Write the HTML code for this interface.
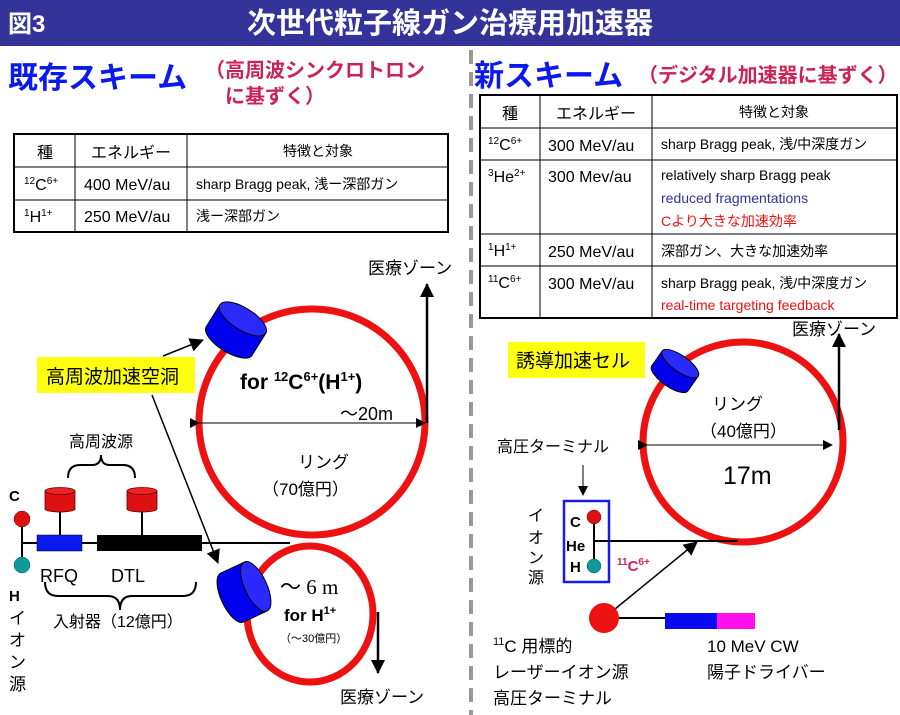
<!DOCTYPE html>
<html><head><meta charset="utf-8">
<style>
html,body{margin:0;padding:0;background:#fff;}
svg{display:block;font-family:"Liberation Sans","Noto Sans CJK JP",sans-serif;}
</style></head>
<body>
<svg width="900" height="715" viewBox="0 0 900 715" xmlns="http://www.w3.org/2000/svg">
<defs>
<marker id="ah" markerWidth="10" markerHeight="10" refX="9" refY="5" orient="auto" markerUnits="userSpaceOnUse"><path d="M0,0 L10,5 L0,10 z" fill="#000"/></marker>
<marker id="ahb" markerWidth="14" markerHeight="14" refX="13" refY="7" orient="auto" markerUnits="userSpaceOnUse"><path d="M0,0 L14,7 L0,14 z" fill="#000"/></marker>
<g id="cyl">
<rect x="-13" y="-27" width="26" height="54" fill="#0000ee"/>
<ellipse cx="-13" cy="0" rx="11" ry="27" fill="#0000ee" stroke="#000" stroke-width="1"/>
<rect x="-13" y="-27" width="26" height="54" fill="#0000ee"/>
<line x1="-13" y1="-27" x2="13" y2="-27" stroke="#000"/>
<line x1="-13" y1="27" x2="13" y2="27" stroke="#000"/>
<ellipse cx="13" cy="0" rx="11" ry="27" fill="#2a2aff" stroke="#000" stroke-width="1"/>
</g>
<g id="rcyl">
<rect x="0" y="4" width="30" height="18" fill="#dd1111" stroke="#600" stroke-width="0.8"/>
<ellipse cx="15" cy="22" rx="15" ry="3" fill="#dd1111" stroke="#600" stroke-width="0.8"/>
<rect x="0.5" y="4" width="29" height="17" fill="#dd1111"/>
<ellipse cx="15" cy="4" rx="15" ry="3.5" fill="#ee2222" stroke="#600" stroke-width="0.8"/>
</g>
</defs>

<rect x="0" y="0" width="900" height="46" fill="#333399"/>
<text x="8" y="32" font-size="24" font-weight="bold" fill="#fff">図3</text>
<text x="450" y="33" font-size="29" font-weight="bold" fill="#fff" text-anchor="middle">次世代粒子線ガン治療用加速器</text>

<line x1="471" y1="50" x2="471" y2="715" stroke="#999" stroke-width="4" stroke-dasharray="14,8"/>

<text x="8" y="88" font-size="30" font-weight="bold" fill="#0a1aee">既存スキーム</text>
<text x="205" y="77" font-size="20" font-weight="bold" fill="#cc2255">（高周波シンクロトロン</text>
<text x="225" y="103" font-size="20" font-weight="bold" fill="#cc2255">に基ずく）</text>

<g stroke="#000" fill="none">
<rect x="14" y="134" width="434" height="98" stroke-width="2"/>
<line x1="14" y1="167" x2="448" y2="167"/>
<line x1="14" y1="200" x2="448" y2="200"/>
<line x1="75" y1="134" x2="75" y2="232"/>
<line x1="187" y1="134" x2="187" y2="232"/>
</g>
<g font-size="16" fill="#000">
<text x="45" y="158" text-anchor="middle">種</text>
<text x="131" y="158" text-anchor="middle">エネルギー</text>
<text x="318" y="156" text-anchor="middle" font-size="14">特徴と対象</text>
<text x="24" y="190"><tspan font-size="10" dy="-6">12</tspan><tspan dy="6">C</tspan><tspan font-size="10" dy="-6">6+</tspan></text>
<text x="84" y="190">400 MeV/au</text>
<text x="196" y="189" font-size="14">sharp Bragg peak, 浅ー深部ガン</text>
<text x="24" y="222"><tspan font-size="10" dy="-6">1</tspan><tspan dy="6">H</tspan><tspan font-size="10" dy="-6">1+</tspan></text>
<text x="84" y="222">250 MeV/au</text>
<text x="196" y="221" font-size="14">浅ー深部ガン</text>
</g>

<text x="474" y="86" font-size="30" font-weight="bold" fill="#0a1aee">新スキーム</text>
<text x="638" y="82" font-size="20" font-weight="bold" fill="#cc2255">（デジタル加速器に基ずく）</text>

<g stroke="#000" fill="none">
<rect x="480" y="95" width="417" height="223" stroke-width="2"/>
<line x1="480" y1="128" x2="897" y2="128"/>
<line x1="480" y1="160" x2="897" y2="160"/>
<line x1="480" y1="234" x2="897" y2="234"/>
<line x1="480" y1="266" x2="897" y2="266"/>
<line x1="540" y1="95" x2="540" y2="318"/>
<line x1="652" y1="95" x2="652" y2="318"/>
</g>
<g font-size="16" fill="#000">
<text x="510" y="119" text-anchor="middle">種</text>
<text x="596" y="119" text-anchor="middle">エネルギー</text>
<text x="774" y="117" text-anchor="middle" font-size="14">特徴と対象</text>
<text x="488" y="150"><tspan font-size="10" dy="-6">12</tspan><tspan dy="6">C</tspan><tspan font-size="10" dy="-6">6+</tspan></text>
<text x="548" y="151">300 MeV/au</text>
<text x="661" y="149" font-size="14">sharp Bragg peak, 浅/中深度ガン</text>
<text x="488" y="182"><tspan font-size="10" dy="-6">3</tspan><tspan dy="6">He</tspan><tspan font-size="10" dy="-6">2+</tspan></text>
<text x="548" y="182">300 Mev/au</text>
<text x="661" y="180" font-size="14">relatively sharp Bragg peak</text>
<text x="661" y="203" font-size="14" fill="#333399">reduced fragmentations</text>
<text x="661" y="226" font-size="14" fill="#ee1111">Cより大きな加速効率</text>
<text x="488" y="256"><tspan font-size="10" dy="-6">1</tspan><tspan dy="6">H</tspan><tspan font-size="10" dy="-6">1+</tspan></text>
<text x="548" y="257">250 MeV/au</text>
<text x="661" y="256" font-size="14">深部ガン、大きな加速効率</text>
<text x="488" y="288"><tspan font-size="10" dy="-6">11</tspan><tspan dy="6">C</tspan><tspan font-size="10" dy="-6">6+</tspan></text>
<text x="548" y="289">300 MeV/au</text>
<text x="661" y="288" font-size="14">sharp Bragg peak, 浅/中深度ガン</text>
<text x="661" y="310" font-size="14" fill="#ee1111">real-time targeting feedback</text>
</g>

<!-- LEFT DIAGRAM -->
<circle cx="312" cy="422" r="113" fill="none" stroke="#ee1111" stroke-width="7"/>
<ellipse cx="310" cy="614" rx="63" ry="68" fill="none" stroke="#ee1111" stroke-width="7"/>
<line x1="22" y1="543" x2="290" y2="543" stroke="#000" stroke-width="2"/>
<rect x="37" y="535" width="45" height="16" fill="#0a1aee" stroke="#000" stroke-width="0.5"/>
<rect x="97" y="535" width="105" height="16" fill="#000"/>
<line x1="60" y1="510" x2="60" y2="535" stroke="#000" stroke-width="2"/>
<line x1="142" y1="510" x2="142" y2="535" stroke="#000" stroke-width="2"/>
<use href="#rcyl" x="45" y="487"/>
<use href="#rcyl" x="127" y="487"/>
<line x1="22" y1="519" x2="22" y2="565" stroke="#000" stroke-width="2"/>
<circle cx="22" cy="519" r="8" fill="#dd1111" stroke="#600" stroke-width="0.5"/>
<circle cx="22" cy="565" r="8" fill="#119999" stroke="#055" stroke-width="0.5"/>
<text x="9" y="501" font-size="15" font-weight="bold">C</text>
<text x="9" y="601" font-size="15" font-weight="bold">H</text>
<text font-size="17" fill="#000"><tspan x="9" y="624">イ</tspan><tspan x="9" y="646">オ</tspan><tspan x="9" y="668">ン</tspan><tspan x="9" y="690">源</tspan></text>
<text x="40" y="582" font-size="18">RFQ</text>
<text x="111" y="582" font-size="18">DTL</text>
<text x="69" y="447" font-size="16">高周波源</text>
<path d="M68,478 Q68,465 80,465 L92,465 Q101,465 101,455 Q101,465 110,465 L123,465 Q135,465 135,478" fill="none" stroke="#000" stroke-width="2"/>
<path d="M45,582 Q45,596 58,596 L108,596 Q120,596 120,610 Q120,596 132,596 L183,596 Q196,596 196,582" fill="none" stroke="#000" stroke-width="2"/>
<text x="53" y="627" font-size="16">入射器（12億円）</text>

<g transform="translate(236,330) rotate(-58)"><use href="#cyl"/></g>
<g transform="translate(244,592) rotate(-25)"><use href="#cyl"/></g>

<rect x="37" y="357" width="158" height="36" fill="#ffff11"/>
<text x="46" y="383" font-size="19" fill="#000">高周波加速空洞</text>
<line x1="163" y1="356" x2="203" y2="340" stroke="#000" stroke-width="1.5" marker-end="url(#ahb)"/>
<line x1="152" y1="395" x2="218" y2="563" stroke="#000" stroke-width="1.5" marker-end="url(#ahb)"/>

<text x="240" y="389" font-size="21" font-weight="bold">for <tspan font-size="13" dy="-8">12</tspan><tspan dy="8">C</tspan><tspan font-size="13" dy="-8">6+</tspan><tspan dy="8">(H</tspan><tspan font-size="13" dy="-8">1+</tspan><tspan dy="8">)</tspan></text>
<text x="340" y="420" font-size="18">～20m</text>
<line x1="199" y1="423" x2="425" y2="423" stroke="#000" stroke-width="1" marker-start="url(#ah)" marker-end="url(#ah)"/>
<text x="298" y="468" font-size="17">リング</text>
<text x="262" y="495" font-size="17">（70億円）</text>
<line x1="427" y1="423" x2="427" y2="284" stroke="#000" stroke-width="2.5" marker-end="url(#ahb)"/>
<text x="368" y="274" font-size="17">医療ゾーン</text>

<text x="280" y="594" font-size="21" font-family="Liberation Serif, serif">～ 6 m</text>
<text x="284" y="621" font-size="17" font-weight="bold">for H<tspan font-size="11" dy="-7">1+</tspan></text>
<text x="280" y="642" font-size="11">（～30億円）</text>
<line x1="378" y1="612" x2="378" y2="673" stroke="#000" stroke-width="2.5" marker-end="url(#ahb)"/>
<text x="340" y="703" font-size="17">医療ゾーン</text>

<!-- RIGHT DIAGRAM -->
<circle cx="743" cy="442" r="100" fill="none" stroke="#ee1111" stroke-width="7"/>
<g transform="translate(675,371) rotate(-55)">
<rect x="-9" y="-22" width="18" height="44" fill="#0000ee"/>
<ellipse cx="-9" cy="0" rx="8" ry="22" fill="#0000ee" stroke="#000"/>
<rect x="-9" y="-22" width="18" height="44" fill="#0000ee"/>
<line x1="-9" y1="-22" x2="9" y2="-22" stroke="#000"/>
<line x1="-9" y1="22" x2="9" y2="22" stroke="#000"/>
<ellipse cx="9" cy="0" rx="8" ry="22" fill="#2a2aff" stroke="#000"/>
</g>
<rect x="508" y="342" width="137" height="36" fill="#ffff11"/>
<text x="516" y="367" font-size="19">誘導加速セル</text>
<line x1="839" y1="430" x2="839" y2="334" stroke="#000" stroke-width="2.5" marker-end="url(#ahb)"/>
<text x="792" y="335" font-size="17">医療ゾーン</text>
<line x1="647" y1="445" x2="832" y2="445" stroke="#000" stroke-width="1" marker-start="url(#ah)" marker-end="url(#ah)"/>
<text x="712" y="410" font-size="17">リング</text>
<text x="700" y="437" font-size="17">（40億円）</text>
<text x="723" y="484" font-size="25">17m</text>

<text x="497" y="452" font-size="16">高圧ターミナル</text>
<line x1="583" y1="465" x2="583" y2="495" stroke="#000" stroke-width="1" marker-end="url(#ah)"/>
<rect x="564" y="501" width="45" height="81" fill="none" stroke="#1a1aee" stroke-width="2.5"/>
<text font-size="16" fill="#000"><tspan x="528" y="521">イ</tspan><tspan x="528" y="543">オ</tspan><tspan x="528" y="563">ン</tspan><tspan x="528" y="583">源</tspan></text>
<line x1="594" y1="517" x2="594" y2="566" stroke="#000" stroke-width="2"/>
<line x1="594" y1="541" x2="738" y2="541" stroke="#000" stroke-width="2"/>
<circle cx="594" cy="517" r="7" fill="#dd1111" stroke="#600" stroke-width="0.5"/>
<circle cx="594" cy="566" r="7" fill="#119999" stroke="#055" stroke-width="0.5"/>
<text x="570" y="527" font-size="15" font-weight="bold">C</text>
<text x="566" y="551" font-size="15" font-weight="bold">He</text>
<text x="570" y="572" font-size="15" font-weight="bold">H</text>
<text x="617" y="571" font-size="15" font-weight="bold" fill="#cc2266"><tspan font-size="10" dy="-6">11</tspan><tspan dy="6">C</tspan><tspan font-size="10" dy="-6">6+</tspan></text>
<line x1="604" y1="618" x2="697" y2="542" stroke="#000" stroke-width="1.5" marker-end="url(#ahb)"/>
<line x1="604" y1="618" x2="665" y2="618" stroke="#000" stroke-width="2"/>
<circle cx="604" cy="618" r="15" fill="#ee1111"/>
<rect x="665" y="613" width="52" height="16" fill="#0a0aee"/>
<rect x="717" y="613" width="38" height="16" fill="#ff11ee"/>
<text x="493" y="652" font-size="17"><tspan font-size="11" dy="-7">11</tspan><tspan dy="7">C 用標的</tspan></text>
<text x="493" y="678" font-size="17">レーザーイオン源</text>
<text x="493" y="704" font-size="17">高圧ターミナル</text>
<text x="707" y="652" font-size="17">10 MeV CW</text>
<text x="707" y="678" font-size="17">陽子ドライバー</text>
</svg>
</body></html>
